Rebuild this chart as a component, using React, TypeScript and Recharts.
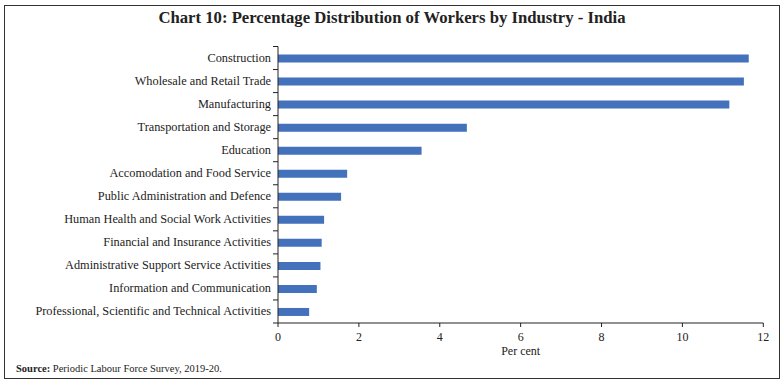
import React from "react";
import { BarChart, Bar, XAxis, YAxis } from "recharts";

const industries = [
  "Construction",
  "Wholesale and Retail Trade",
  "Manufacturing",
  "Transportation and Storage",
  "Education",
  "Accomodation and Food Service",
  "Public Administration and Defence",
  "Human Health and Social Work Activities",
  "Financial and Insurance Activities",
  "Administrative Support Service Activities",
  "Information and Communication",
  "Professional, Scientific and Technical Activities",
];

const shares = [11.64, 11.52, 11.16, 4.67, 3.55, 1.71, 1.56, 1.14, 1.08, 1.05, 0.96, 0.77];

const xTicks = [0, 2, 4, 6, 8, 10, 12];

const data = industries.map((name, i) => ({ name, value: shares[i] }));

const W = 784;
const H = 386;
const M_TOP = 46.5;
const M_BOTTOM = 33;
const X_AXIS_H = 30;
const PLOT_H = H - M_TOP - M_BOTTOM - X_AXIS_H;
const BAND = PLOT_H / industries.length;
const FONT = "'Liberation Serif', 'Times New Roman', serif";

const CatTick = (props: any) => {
  const { x, y, payload, index } = props;
  const last = index === industries.length - 1;
  return (
    <g>
      <text
        x={x - 7}
        y={y}
        textAnchor="end"
        dominantBaseline="central"
        fontFamily={FONT}
        fontSize={12.3}
        fill="#222"
      >
        {payload.value}
      </text>
      <line x1={x - 5} x2={x} y1={y - BAND / 2} y2={y - BAND / 2} stroke="#222" strokeWidth={1} />
      {last && (
        <line x1={x - 5} x2={x} y1={y + BAND / 2} y2={y + BAND / 2} stroke="#222" strokeWidth={1} />
      )}
    </g>
  );
};

export default function App() {
  return (
    <div style={{ position: "absolute", left: 0, top: 0, width: W, height: H, background: "#fff", fontFamily: FONT }}>
      <div
        style={{
          position: "absolute",
          left: 4,
          top: 5,
          width: 776,
          height: 374,
          border: "1px solid #333",
          boxSizing: "border-box",
        }}
      />
      <div
        style={{
          position: "absolute",
          left: 0,
          top: 8,
          width: W,
          textAlign: "center",
          fontSize: 16.7,
          fontWeight: "bold",
          color: "#222",
          lineHeight: "20px",
        }}
      >
        Chart 10: Percentage Distribution of Workers by Industry - India
      </div>
      <div style={{ position: "absolute", left: 16, top: 362, fontSize: 10.5, color: "#222", lineHeight: "14px" }}>
        <b>Source:</b> Periodic Labour Force Survey, 2019-20.
      </div>
      <div style={{ position: "absolute", left: 0, top: 0 }}>
        <BarChart
          width={W}
          height={H}
          data={data}
          layout="vertical"
          margin={{ top: M_TOP, right: 20.7, bottom: M_BOTTOM, left: 0 }}
          barCategoryGap={0}
        >
          <XAxis
            type="number"
            domain={[0, 12]}
            ticks={xTicks}
            height={X_AXIS_H}
            axisLine={{ stroke: "#222" }}
            tickLine={{ stroke: "#222" }}
            tickSize={4}
            tickMargin={5}
            tick={{ fontFamily: FONT, fontSize: 12, fill: "#222" }}
            label={{ value: "Per cent", position: "insideBottom", offset: -2, fontFamily: FONT, fontSize: 12, fill: "#222" }}
          />
          <YAxis
            type="category"
            dataKey="name"
            width={278}
            axisLine={{ stroke: "#222" }}
            tickLine={false}
            tickSize={0}
            tickMargin={0}
            tick={<CatTick />}
            interval={0}
          />
          <Bar dataKey="value" fill="#4371bb" barSize={8} isAnimationActive={false} />
        </BarChart>
      </div>
    </div>
  );
}
